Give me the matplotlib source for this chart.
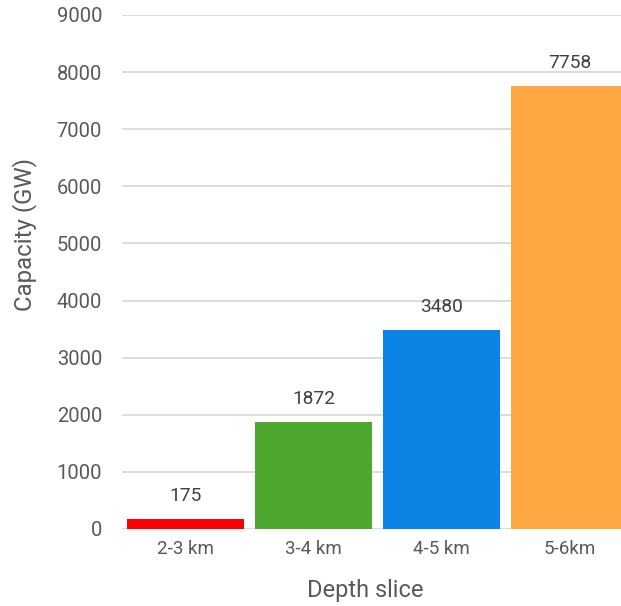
import matplotlib
matplotlib.use("Agg")
import matplotlib.pyplot as plt

categories = ["2-3 km", "3-4 km", "4-5 km", "5-6km"]
values = [175, 1872, 3480, 7758]
colors = ["#FF0000", "#4EA72E", "#0C84E6", "#FFA843"]
yticks = [0, 1000, 2000, 3000, 4000, 5000, 6000, 7000, 8000, 9000]

plt.rcParams['font.family'] = ['Roboto', 'DejaVu Sans']

fig = plt.figure(figsize=(6.21, 6.06), dpi=100)
ax = fig.add_axes([121.5/621, 77/606, 512/621, 514/606])

x = list(range(len(categories)))
ax.bar(x, values, width=0.91, color=colors, zorder=3)
ax.set_xlim(-0.5, len(categories) - 0.5)
ax.set_ylim(0, 9000)
ax.set_yticks(yticks)
ax.set_yticklabels([str(t) for t in yticks])
ax.set_xticks(x)
ax.set_xticklabels(categories)
ax.grid(axis='y', color='#D9D9D9', linewidth=1.3, zorder=0)
ax.set_axisbelow(True)
for s in ax.spines.values():
    s.set_visible(False)
ax.tick_params(axis='both', length=0, colors='#595959')
ax.tick_params(axis='y', pad=14, labelsize=14.5)
ax.tick_params(axis='x', pad=8, labelsize=13.5)

for xi, v in zip(x, values):
    ax.annotate(str(v), (xi, v), xytext=(0, 13), textcoords='offset points',
                ha='center', va='baseline', fontsize=13.8, color='#404040')

ax.set_ylabel("Capacity (GW)", fontsize=17.3, color='#595959')
ax.yaxis.label.set_verticalalignment('center')
ax.yaxis.set_label_coords(-0.19, 0.572)
ax.set_xlabel("Depth slice", fontsize=17, color='#595959')
ax.xaxis.label.set_verticalalignment('center')
ax.xaxis.set_label_coords(0.4756, -0.12)

fig.savefig("out.png", dpi=100)
